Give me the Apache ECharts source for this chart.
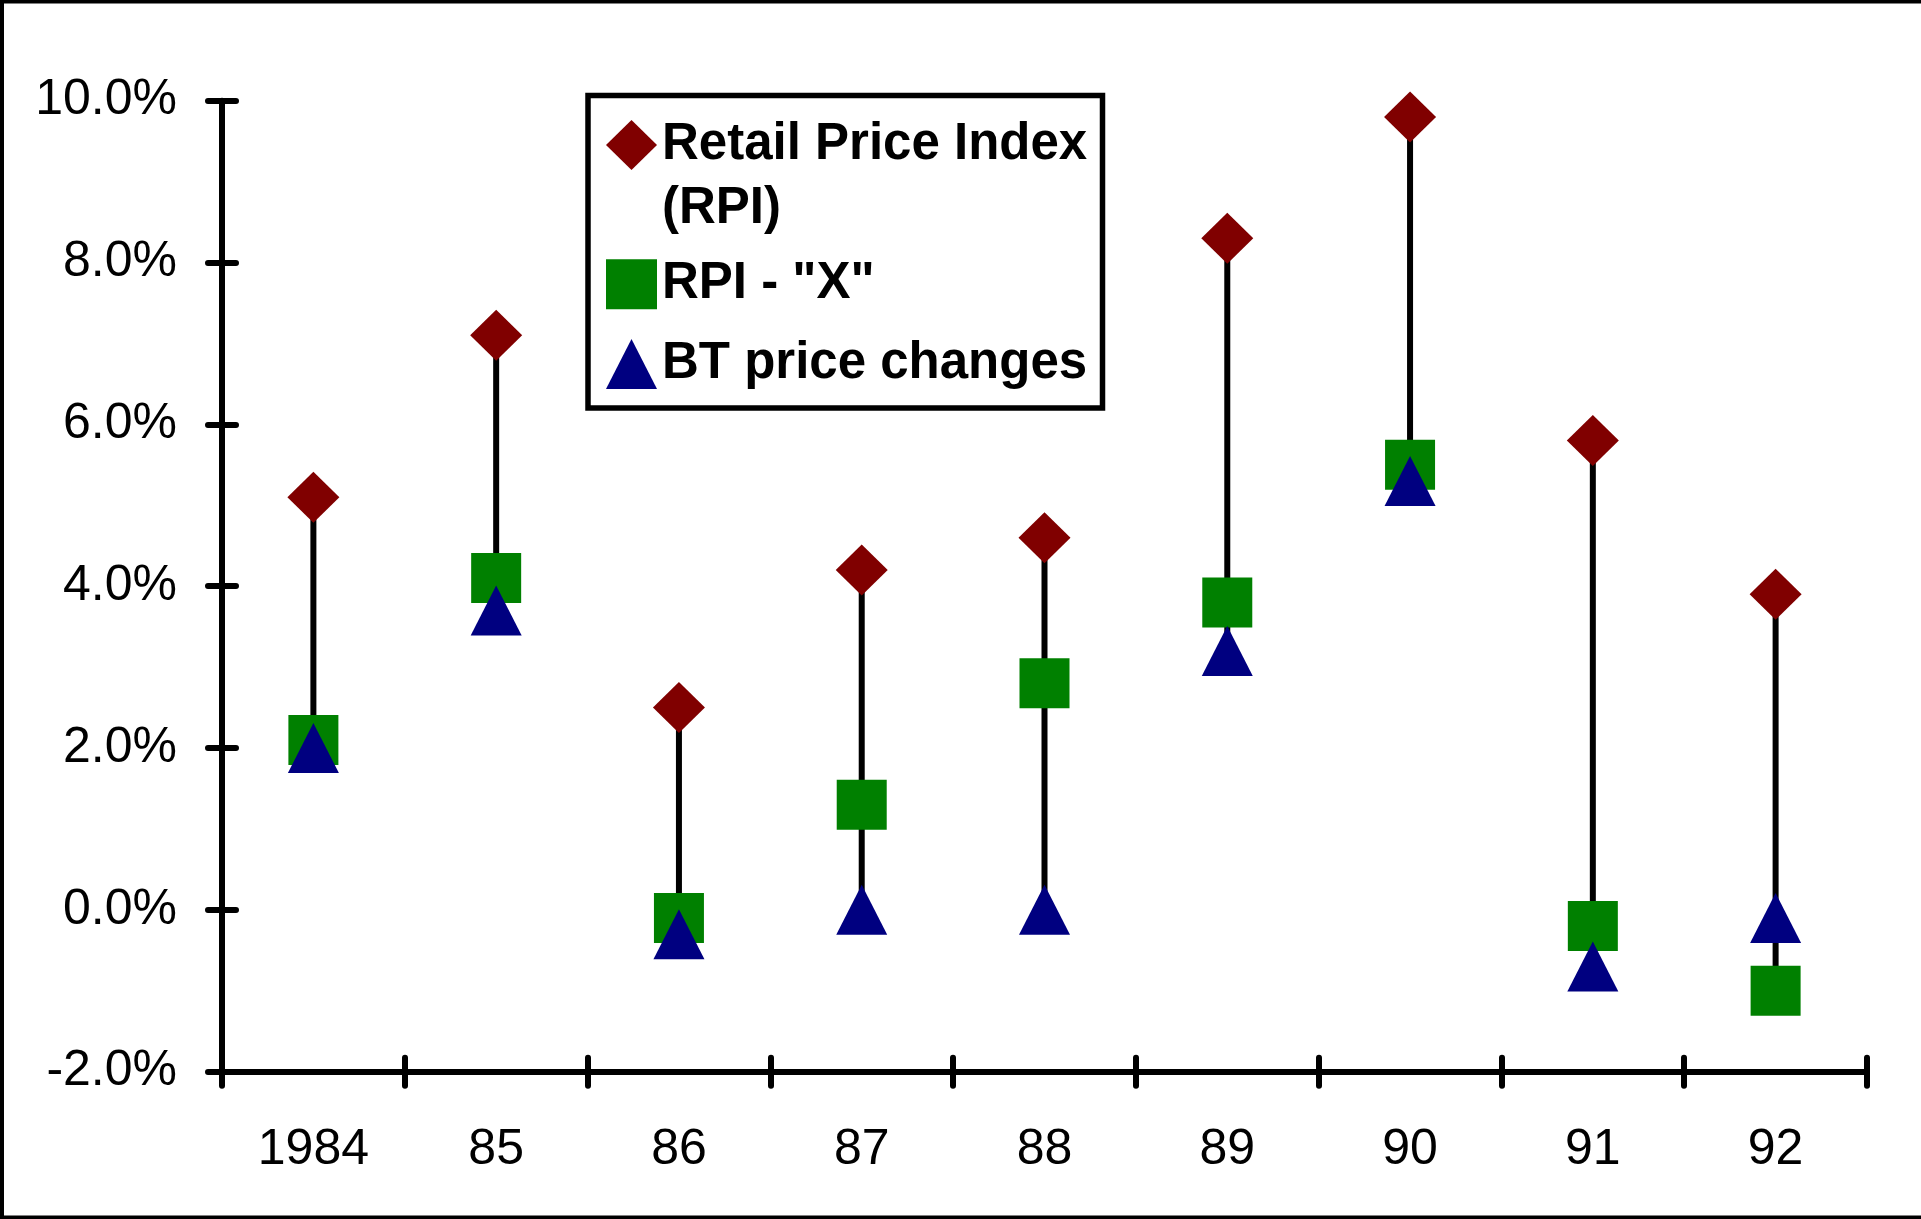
<!DOCTYPE html>
<html>
<head>
<meta charset="utf-8">
<title>RPI, RPI - X and BT price changes</title>
<script src="https://cdn.jsdelivr.net/npm/echarts@6/dist/echarts.min.js"></script>
<style>
  html, body { margin: 0; padding: 0; background: #fff; }
  #chart { width: 1921px; height: 1219px; }
</style>
</head>
<body>
<div id="chart"></div>
<script>
// Years along the category axis
const years = ['1984', '85', '86', '87', '88', '89', '90', '91', '92'];

// Annual percentage changes
const rpi = [5.1, 7.1, 2.5, 4.2, 4.6, 8.3, 9.8, 5.8, 3.9];
const rpiMinusX = [2.1, 4.1, -0.1, 1.3, 2.8, 3.8, 5.5, -0.2, -1.0];
const btChanges = [2.0, 3.7, -0.3, 0.0, 0.0, 3.2, 5.3, -0.7, -0.1];

// Value axis range
const yMin = -2;
const yMax = 10;
const yStep = 2;

const seriesNames = ['Retail Price Index (RPI)', 'RPI - "X"', 'BT price changes'];

// High-low spans per year, taken from the three series
const spans = years.map((_, i) => {
  const vals = [rpi[i], rpiMinusX[i], btChanges[i]];
  return [i, Math.max.apply(null, vals), Math.min.apply(null, vals)];
});

const FONT = '"Liberation Sans", Arial, sans-serif';

const chart = echarts.init(document.getElementById('chart'), null, { renderer: 'canvas' });

const legendText = {
  fontFamily: FONT, fontSize: 51, fontWeight: 'bold', color: '#000',
  lineHeight: 50, padding: [9, 0, 0, 0]
};

function legendAt(name, top, icon, fmt) {
  return {
    data: [name], left: 606, top: top, orient: 'vertical', padding: 0,
    itemWidth: 51, itemHeight: 50, icon: icon, selectedMode: false,
    textStyle: legendText, z: 10,
    formatter: fmt || (n => n)
  };
}

const tickStyle = { color: '#000', width: 6, cap: 'round' };

const option = {
  backgroundColor: '#fff',
  animation: false,
  grid: { left: 222, right: 54, top: 100.7, bottom: 147.3, containLabel: false },
  xAxis: [
    {
      type: 'category', data: years, position: 'bottom', boundaryGap: true,
      axisLine: { show: true, onZero: false, lineStyle: { color: '#000', width: 6, cap: 'round' } },
      axisTick: { show: true, alignWithLabel: false, length: 14, lineStyle: tickStyle },
      axisLabel: { color: '#000', fontFamily: FONT, fontSize: 50, margin: 54 },
      splitLine: { show: false }
    },
    {
      type: 'category', data: years, position: 'bottom', boundaryGap: true,
      axisLine: { show: false, onZero: false },
      axisTick: { show: true, inside: true, length: 14, lineStyle: tickStyle },
      axisLabel: { show: false },
      splitLine: { show: false }
    }
  ],
  yAxis: [
    {
      type: 'value', min: yMin, max: yMax, interval: yStep, position: 'left',
      axisLine: { show: true, onZero: false, lineStyle: { color: '#000', width: 6, cap: 'round' } },
      axisTick: { show: true, length: 14, lineStyle: tickStyle },
      axisLabel: {
        color: '#000', fontFamily: FONT, fontSize: 50, margin: 45,
        formatter: v => v.toFixed(1) + '%'
      },
      splitLine: { show: false }
    },
    {
      type: 'value', min: yMin, max: yMax, interval: yStep, position: 'left',
      axisLine: { show: false, onZero: false },
      axisTick: { show: true, inside: true, length: 14, lineStyle: tickStyle },
      axisLabel: { show: false },
      splitLine: { show: false }
    }
  ],
  legend: [
    legendAt(seriesNames[0], 115.5, 'diamond', () => 'Retail Price Index'),
    legendAt(seriesNames[1], 254.7, 'rect'),
    legendAt(seriesNames[2], 334.5, 'triangle')
  ],
  graphic: [
    {
      // outer frame on the top, left and bottom edges
      type: 'polyline', z: 100, silent: true,
      shape: { points: [[1921, 1.5], [2, 1.5], [2, 1217.5], [1921, 1217.5]] },
      style: { stroke: '#000', lineWidth: 4, fill: null }
    },
    {
      // legend frame
      type: 'rect', z: 3, silent: true,
      shape: { x: 588, y: 95.5, width: 514.5, height: 312.4 },
      style: { stroke: '#000', lineWidth: 5.5, fill: '#fff' }
    },
    {
      type: 'text', z: 11, silent: true,
      style: {
        text: '(RPI)', x: 662, y: 208.5, verticalAlign: 'middle', align: 'left',
        font: 'bold 51px ' + FONT, fill: '#000'
      }
    }
  ],
  series: [
    {
      type: 'custom', name: 'span', xAxisIndex: 0, yAxisIndex: 0,
      data: spans, encode: { x: 0, y: [1, 2] }, silent: true, z: 1,
      renderItem: function (params, api) {
        const top = api.coord([api.value(0), api.value(1)]);
        const bot = api.coord([api.value(0), api.value(2)]);
        return {
          type: 'line',
          shape: { x1: top[0], y1: top[1], x2: bot[0], y2: bot[1] },
          style: { stroke: '#000', lineWidth: 6 }
        };
      }
    },
    {
      type: 'scatter', name: seriesNames[0], data: rpi, z: 2,
      symbol: 'diamond', symbolSize: [52, 51],
      itemStyle: { color: '#800000', opacity: 1 }
    },
    {
      type: 'scatter', name: seriesNames[1], data: rpiMinusX, z: 3,
      symbol: 'rect', symbolSize: [50, 50],
      itemStyle: { color: '#008000', opacity: 1 }
    },
    {
      type: 'scatter', name: seriesNames[2], data: btChanges, z: 4,
      symbol: 'triangle', symbolSize: [51, 50],
      itemStyle: { color: '#000080', opacity: 1 }
    }
  ]
};

chart.setOption(option);
</script>
</body>
</html>
